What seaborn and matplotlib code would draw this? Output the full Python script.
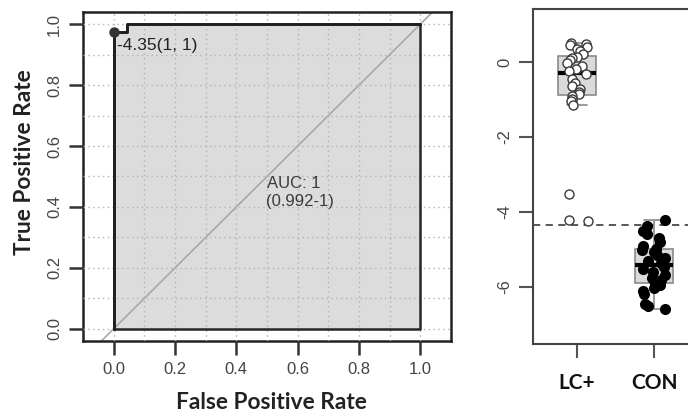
import numpy as np
import pandas as pd
import matplotlib
matplotlib.use('Agg')
import matplotlib.pyplot as plt
import seaborn as sns

# ── ROC curve ──
fpr = [0.0, 0.0, 0.042, 0.042, 1.0]
tpr = [0.0, 0.974, 0.974, 1.0, 1.0]
thr_fpr, thr_tpr = 0.0, 0.974
thr_label = '-4.35(1, 1)'
auc_label = 'AUC: 1'
ci_label = '(0.992-1)'
roc_ticks = [0.0, 0.2, 0.4, 0.6, 0.8, 1.0]

# ── score per group ──
groups = ['LC+', 'CON']
lc_vals = [0.51, 0.48, 0.44, 0.40, 0.35, 0.28, 0.22, 0.14, 0.10, 0.05,
           -0.02, -0.10, -0.18, -0.25, -0.33, -0.45, -0.55, -0.63, -0.72,
           -0.80, -0.86, -0.90, -0.98, -1.05, -1.15, -3.52, -4.22, -4.24]
con_vals = [-4.21, -4.38, -4.50, -4.58, -4.70, -4.80, -4.90, -4.98, -5.02,
            -5.08, -5.15, -5.22, -5.30, -5.36, -5.42, -5.46, -5.52, -5.60,
            -5.68, -5.75, -5.82, -5.90, -5.96, -6.02, -6.10, -6.20, -6.45,
            -6.52, -6.59]
cutoff = -4.35
score_ticks = [0, -2, -4, -6]

df = pd.DataFrame({
    'group': ['LC+'] * len(lc_vals) + ['CON'] * len(con_vals),
    'value': lc_vals + con_vals,
})

sns.set_theme(style='white')
plt.rcParams['font.family'] = ['Liberation Sans', 'DejaVu Sans']

fig = plt.figure(figsize=(6.88, 4.16), dpi=100)
ax1 = fig.add_axes([83/688, 75/416, 368/688, 329/416])
ax2 = fig.add_axes([533/688, 72/416, 166/688, 335/416])

# ── left: ROC ──
poly_x = fpr + [1.0, 0.0]
poly_y = tpr + [0.0, 0.0]
ax1.fill(poly_x, poly_y, facecolor='#dcdcdc', edgecolor='none', zorder=1)
ax1.plot(poly_x, poly_y, color='#262626', lw=1.8, zorder=3)
ax1.axline((0, 0), (1, 1), color='#a8a8a8', lw=1.2, zorder=2)
sns.lineplot(x=fpr, y=tpr, sort=False, estimator=None, color='#1e1e1e',
             lw=2, ax=ax1, zorder=3)
ax1.plot([thr_fpr], [thr_tpr], 'o', color='#333333', ms=6.5, zorder=4)
ax1.text(thr_fpr + 0.012, 0.915, thr_label, fontsize=12.5, color='#222222',
         ha='left', va='baseline', zorder=5)
ax1.text(0.5, 0.461, auc_label, fontsize=12, color='#3a3a3a', ha='left',
         va='baseline', zorder=5)
ax1.text(0.497, 0.402, ci_label, fontsize=12, color='#3a3a3a', ha='left',
         va='baseline', zorder=5)

ax1.set_xlim(-0.1, 1.1)
ax1.set_ylim(-0.04, 1.04)
ax1.set_xticks(roc_ticks)
ax1.set_yticks(roc_ticks)
ax1.set_xticks(np.arange(0, 1.01, 0.1), minor=True)
ax1.set_yticks(np.arange(0, 1.01, 0.1), minor=True)
ax1.set_xticklabels([f'{v:.1f}' for v in roc_ticks])
ax1.set_yticklabels([f'{v:.1f}' for v in roc_ticks], rotation=90, va='center')
ax1.grid(which='both', ls=(0, (1, 2.5)), color='#b3b3b3', lw=1)
ax1.set_axisbelow(False)
ax1.tick_params(which='major', direction='out', length=10, width=1.8,
                color='#333333', labelsize=12, labelcolor='#444444', pad=5,
                bottom=True, left=True)
ax1.tick_params(which='minor', length=0)
for s in ax1.spines.values():
    s.set_color('#222222')
    s.set_linewidth(1.8)

ax1.set_xlabel('False Positive Rate', fontfamily='Lato', fontweight='bold',
               fontsize=16.3, color='#222222', va='center')
ax1.set_ylabel('True Positive Rate', fontfamily='Lato', fontweight='bold',
               fontsize=16.3, color='#222222', va='center')
ax1.xaxis.set_label_coords(0.511, -0.188)
ax1.yaxis.set_label_coords(-0.158, 0.545)

# ── right: box + points ──
ax2.axhline(cutoff, ls=(0, (4, 3)), color='#4a4a4a', lw=1.3, zorder=0.5)
sns.boxplot(data=df, x='group', y='value', order=groups, ax=ax2, width=0.5,
            color='#dadada', linecolor='#8a8a8a', linewidth=1.2,
            saturation=1, showfliers=False,
            medianprops=dict(color='black', linewidth=3))
np.random.seed(5)
sns.stripplot(data=df[df.group == 'LC+'], x='group', y='value', order=groups,
              ax=ax2, jitter=0.15, size=6.5, color='white',
              edgecolor='#3a3a3a', linewidth=1, zorder=3)
ax2.collections[-1].set_facecolor('none')
sns.stripplot(data=df[df.group == 'CON'], x='group', y='value', order=groups,
              ax=ax2, jitter=0.15, size=8, color='black', linewidth=0,
              zorder=3)

ax2.set_xlim(-0.571, 1.584)
ax2.set_ylim(-7.52, 1.41)
ax2.set_yticks(score_ticks)
ax2.set_yticklabels([str(v) for v in score_ticks], rotation=90, va='center')
ax2.set_xlabel('')
ax2.set_ylabel('')
ax2.tick_params(axis='y', direction='out', length=10, width=1.5,
                color='#555555', labelsize=12, labelcolor='#444444', pad=5,
                left=True)
ax2.tick_params(axis='x', direction='out', length=10, width=1.5,
                color='#555555', labelsize=15, labelcolor='#111111', pad=11,
                bottom=True)
for t in ax2.get_xticklabels():
    t.set_fontfamily('Lato')
    t.set_fontweight('bold')
for s in ax2.spines.values():
    s.set_color('#444444')
    s.set_linewidth(1.5)

fig.savefig('out.png', dpi=100)
